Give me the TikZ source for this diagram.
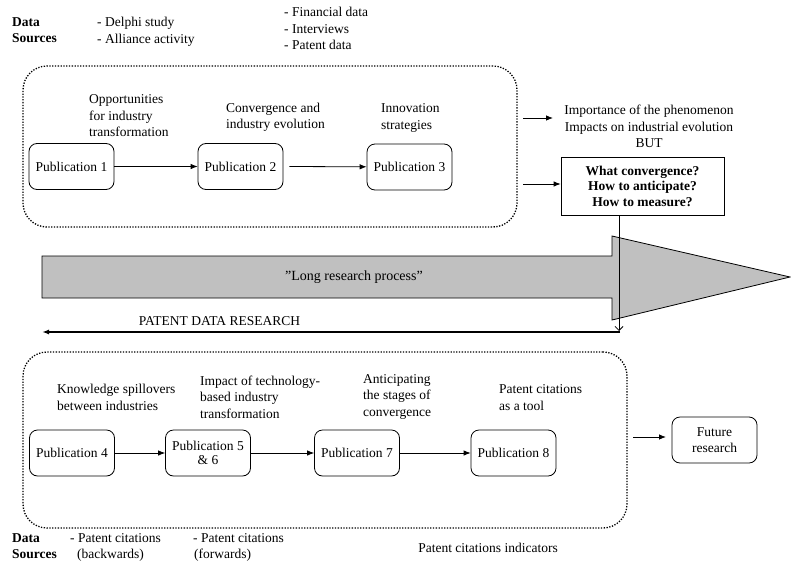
\documentclass[tikz,border=0pt]{standalone}
\usepackage{fontspec}
\setmainfont{Liberation Serif}
\usetikzlibrary{arrows.meta}
\definecolor{shaftgray}{RGB}{192,192,192}
\begin{document}
\begin{tikzpicture}[x=1pt,y=-1pt,
  font=\fontsize{13.5}{16.5}\selectfont,
  pub/.style={draw, rounded corners=8, minimum width=85, minimum height=46,
    inner sep=1, align=center, line width=0.8},
  lbl/.style={inner sep=0, align=left, anchor=west},
  flow/.style={-{Latex[length=7,width=5.5]}, line width=0.8},
  frame/.style={draw, rounded corners=24, line width=1.3,
    dash pattern=on 1.3pt off 1.5pt},
  srcs/.style={inner sep=0, align=left, anchor=north west}]
\useasboundingbox (0,0) rectangle (791,567);

% ---------- first research phase ----------
\node[srcs, font=\fontsize{13.5}{16.5}\selectfont\bfseries] (ds1) at (12,17) {Data\\Sources};
\node[srcs] (src1a) at (97,17) {- Delphi study\\- Alliance activity};
\node[srcs] (src1b) at (284,7) {- Financial data\\- Interviews\\- Patent data};

\node[frame, minimum width=494, minimum height=161] (top) at (270,146.5) {};

\node[pub] (p1) at (71.5,166.5) {Publication 1};
\node[pub] (p2) at (240.5,166.5) {Publication 2};
\node[pub] (p3) at (409.5,167) {Publication 3};

\node[lbl] (t1) at (89,116) {Opportunities\\for industry\\transformation};
\node[lbl] (t2) at (226,117.5) {Convergence and\\industry evolution};
\node[lbl] (t3) at (381,118) {Innovation\\strategies};

\draw[flow] (p1) -- (p2);
\draw[flow] ([xshift=6]p2.east) -- (p3);

% ---------- findings and open questions ----------
\node[inner sep=0, align=center, anchor=north] (imp) at (649,105)
  {Importance of the phenomenon\\Impacts on industrial evolution\\BUT};
\node[draw, line width=0.8, minimum width=163, minimum height=58, inner sep=0,
  align=center, font=\fontsize{13.5}{15.5}\selectfont\bfseries] (q) at (642.5,186)
  {What convergence?\\How to anticipate?\\How to measure?};

\coordinate (a1s) at (523,118);
\coordinate (a1e) at (553,118);
\coordinate (a2s) at (523,184);
\draw[flow] (a1s) -- (a1e);
\draw[flow] (a2s) -- (q.west |- a2s);

% ---------- long research process arrow ----------
\draw[fill=shaftgray, line width=0.8]
  (42,256) -- (612,256) -- (612,236) -- (790,277) -- (612,320)
  -- (612,298) -- (42,298) -- cycle;
\node[font=\fontsize{14}{16}\selectfont] (lrp) at (354,277) {”Long research process”};

% ---------- patent data research ----------
\coordinate (pdrR) at (620,332);
\coordinate (pdrL) at (42,332);
\draw[-{Latex[length=7,width=5]}, line width=1.6] (pdrR) -- (pdrL);
\node[inner sep=0] (pdr) at (219.5,321) {PATENT DATA RESEARCH};
\draw[-{Straight Barb[length=4,width=8]}, line width=0.8]
  (q.south -| 619,0) -- (619,331);

% ---------- second research phase ----------
\node[frame, minimum width=604, minimum height=176] (bot) at (325,440) {};

\node[pub] (p4) at (72,453) {Publication 4};
\node[pub, font=\fontsize{13.5}{14.5}\selectfont] (p5) at (208,453) {Publication 5\\[0pt]\& 6};
\node[pub] (p7) at (357,453) {Publication 7};
\node[pub] (p8) at (513.5,453) {Publication 8};

\node[lbl] (t4) at (57,397.5) {Knowledge spillovers\\between industries};
\node[lbl] (t5) at (200,397) {Impact of technology-\\based industry\\transformation};
\node[lbl] (t7) at (363,396.5) {Anticipating\\the stages of\\convergence};
\node[lbl] (t8) at (499,397.5) {Patent citations\\as a tool};

\draw[flow] (p4) -- (p5);
\draw[flow] (p5) -- (p7);
\draw[flow] (p7) -- (p8);

\node[pub] (fut) at (714.5,440) {Future\\research};
\coordinate (a3s) at (633,437);
\coordinate (a3e) at (666,437);
\draw[flow] (a3s) -- (a3e);

\node[srcs, font=\fontsize{13.5}{16.5}\selectfont\bfseries] (ds2) at (12,533) {Data\\Sources};
\node[srcs] (src2a) at (70,533) {- Patent citations\\\hspace*{7pt}(backwards)};
\node[srcs] (src2b) at (193,533) {- Patent citations\\\hspace*{1pt}(forwards)};
\node[inner sep=0] (ind) at (488,548) {Patent citations indicators};
\end{tikzpicture}
\end{document}
